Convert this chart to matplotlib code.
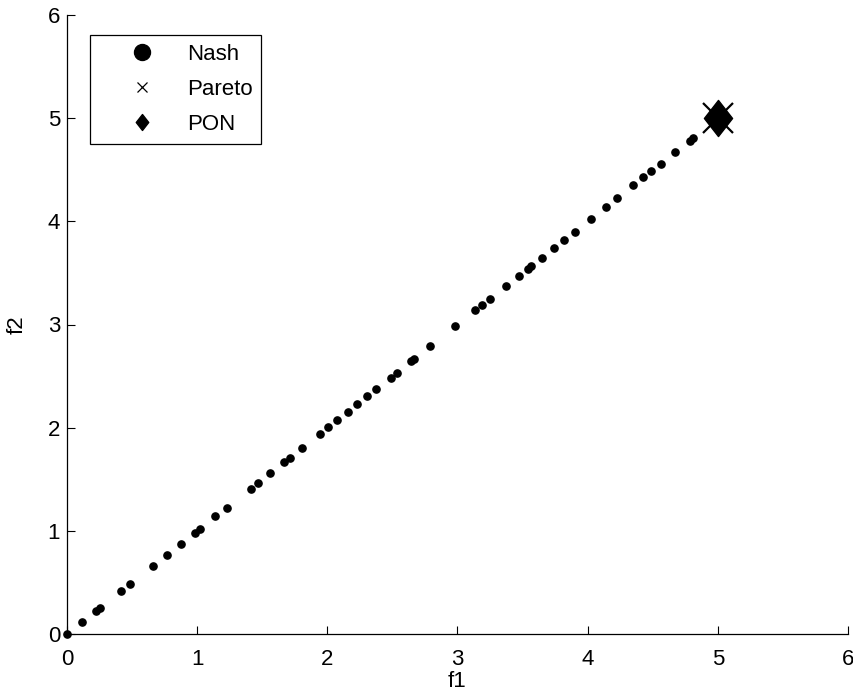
import matplotlib
matplotlib.use("Agg")
import matplotlib.pyplot as plt
from matplotlib.lines import Line2D
from matplotlib.path import Path
import numpy as np

plt.rcParams['font.family'] = ['Liberation Sans', 'DejaVu Sans']

# Nash equilibrium points (f1 = f2 along the diagonal)
nash_f1 = [0.0, 0.118, 0.223, 0.253, 0.417, 0.484, 0.658, 0.765, 0.873, 0.983, 1.019,
           1.139, 1.226, 1.41, 1.467, 1.557, 1.664, 1.71, 1.805, 1.94, 2.005, 2.071,
           2.156, 2.227, 2.304, 2.373, 2.486, 2.532, 2.645, 2.665, 2.79, 2.982, 3.136,
           3.185, 3.249, 3.372, 3.469, 3.538, 3.566, 3.646, 3.74, 3.815, 3.899, 4.027,
           4.14, 4.227, 4.35, 4.426, 4.488, 4.56, 4.672, 4.783, 4.806, 5.0]
nash_f2 = list(nash_f1)
pareto_f1 = [5.0]
pareto_f2 = [5.0]
pon_f1 = [5.0]
pon_f2 = [5.0]

xticks = [0, 1, 2, 3, 4, 5, 6]
yticks = [0, 1, 2, 3, 4, 5, 6]

FS = 16

diamond = Path([(0, 1), (0.78, 0), (0, -1), (-0.78, 0), (0, 1)],
               [Path.MOVETO, Path.LINETO, Path.LINETO, Path.LINETO, Path.CLOSEPOLY])

fig = plt.figure(figsize=(8.54, 6.94), dpi=100)
ax = fig.add_axes([67/854, 60/694, (848-67)/854, (634-15)/694])

ax.plot(nash_f1, nash_f2, linestyle='none', marker='o', color='black', markersize=5.2,
        clip_on=False, zorder=3)
ax.plot(pareto_f1, pareto_f2, linestyle='none', marker='x', color='black', markersize=22,
        markeredgewidth=1.6, clip_on=False, zorder=4)
ax.plot(pon_f1, pon_f2, linestyle='none', marker=diamond, color='black', markersize=26,
        clip_on=False, zorder=5)

ax.set_xlim(0, 6)
ax.set_ylim(0, 6)
ax.set_xticks(xticks)
ax.set_yticks(yticks)
ax.tick_params(direction='in', length=5.5, width=0.8, labelsize=FS)
ax.tick_params(axis='x', pad=11)
ax.tick_params(axis='y', pad=5)
for s in ['top', 'right']:
    ax.spines[s].set_visible(False)
for s in ['left', 'bottom']:
    ax.spines[s].set_linewidth(0.9)

ax.set_xlabel('f1', fontsize=FS, labelpad=0.5)
ax.set_ylabel('f2', fontsize=FS, labelpad=14)

handles = [
    Line2D([], [], linestyle='none', marker='o', color='black', markersize=11.5),
    Line2D([], [], linestyle='none', marker='x', color='black', markersize=7, markeredgewidth=0.9),
    Line2D([], [], linestyle='none', marker=diamond, color='black', markersize=11.5),
]
leg = ax.legend(handles, ['Nash', 'Pareto', 'PON'], loc='upper left',
                bbox_to_anchor=((90-67)/781, (634-35)/619), fontsize=FS,
                frameon=True, fancybox=False, edgecolor='black', framealpha=1,
                borderpad=0.4, labelspacing=0.63, handlelength=3.9, handletextpad=0.05,
                borderaxespad=0)
leg.get_frame().set_linewidth(0.9)

fig.savefig('out.png', dpi=100)
